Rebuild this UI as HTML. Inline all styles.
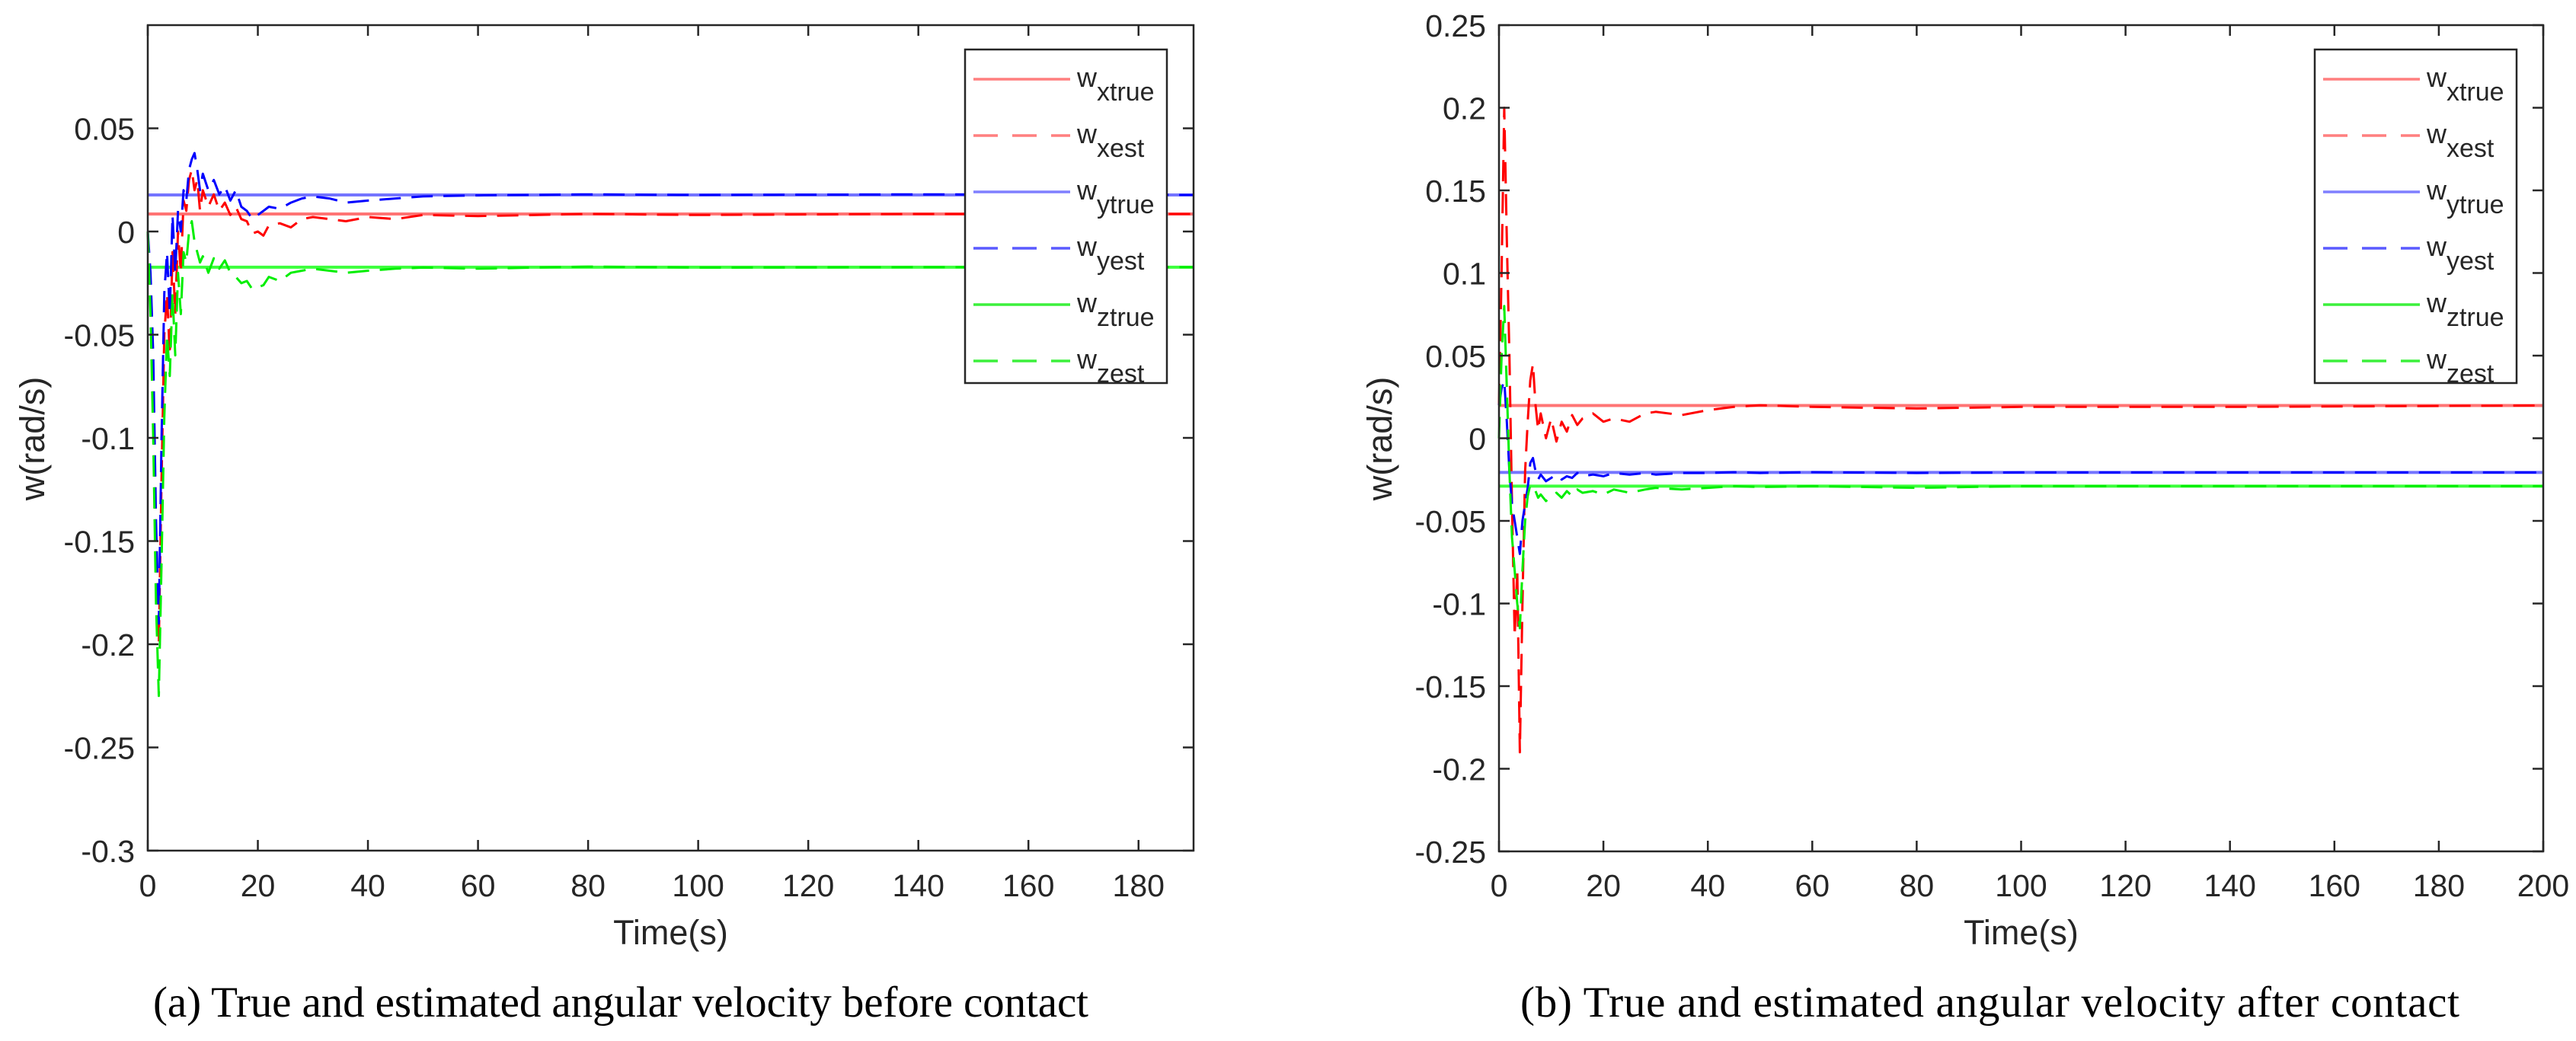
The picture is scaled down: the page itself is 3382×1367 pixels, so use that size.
<!DOCTYPE html>
<html><head><meta charset="utf-8"><style>
html,body{margin:0;padding:0;background:#fff;}
svg{display:block;}
text{font-family:"Liberation Sans",Arial,sans-serif;fill:#262626;}
.cap{font-family:"Liberation Serif","Times New Roman",serif;fill:#000;}
</style></head><body>
<svg id="fig" width="3382" height="1367" viewBox="0 0 3382 1367" xmlns="http://www.w3.org/2000/svg">
<g id="pa"></g>
<g id="pb"></g>
<text class="cap" x="201" y="1335" font-size="57" textLength="1228" lengthAdjust="spacing">(a) True and estimated angular velocity before contact</text>
<text class="cap" x="1996" y="1335" font-size="57" textLength="1233" lengthAdjust="spacing">(b) True and estimated angular velocity after contact</text>
</svg>
<script>
// ---- Chart A data (before contact) ----
const aXTicks=[0,20,40,60,80,100,120,140,160,180];
const aYTicks=[-0.3,-0.25,-0.2,-0.15,-0.1,-0.05,0,0.05];
const aYTickLabels=["-0.3","-0.25","-0.2","-0.15","-0.1","-0.05","0","0.05"];
const aTrueX=0.0085, aTrueY=0.0177, aTrueZ=-0.0173;
const aEstT=[0,0.5,1,1.5,2,2.5,3,3.5,4,4.5,5,5.5,6,6.5,7,7.5,8,8.5,9,9.5,10,11,12,13,14,15,16,17,18,19,20,21,22,24,26,28,30,33,36,40,45,50,60,80,100,140,190];
const aEstX=[0,-0.03,-0.08,-0.15,-0.2,-0.12,-0.05,-0.03,-0.06,-0.01,-0.04,0.0,-0.02,0.015,0.01,0.025,0.03,0.02,0.025,0.01,0.02,0.012,0.018,0.01,0.014,0.008,0.012,0.006,0.005,-0.001,0.0,-0.002,0.003,0.004,0.002,0.006,0.007,0.006,0.005,0.007,0.006,0.008,0.0075,0.0085,0.008,0.0085,0.0085];
const aEstY=[0,-0.02,-0.06,-0.14,-0.19,-0.1,-0.03,-0.01,-0.04,0.008,-0.02,0.01,0.0,0.02,0.015,0.03,0.035,0.038,0.03,0.02,0.028,0.02,0.025,0.018,0.022,0.015,0.02,0.012,0.01,0.006,0.008,0.01,0.012,0.011,0.014,0.016,0.017,0.016,0.014,0.015,0.016,0.017,0.0175,0.018,0.0177,0.018,0.0177];
const aEstZ=[0,-0.04,-0.1,-0.18,-0.225,-0.16,-0.09,-0.05,-0.07,-0.03,-0.06,-0.02,-0.04,-0.01,-0.015,0.0,0.005,-0.005,-0.01,-0.015,-0.012,-0.02,-0.013,-0.018,-0.014,-0.02,-0.022,-0.025,-0.024,-0.028,-0.027,-0.026,-0.022,-0.024,-0.02,-0.019,-0.018,-0.019,-0.02,-0.019,-0.018,-0.0175,-0.018,-0.017,-0.0175,-0.0173,-0.0173];
// ---- Chart B data (after contact) ----
const bXTicks=[0,20,40,60,80,100,120,140,160,180,200];
const bYTicks=[-0.25,-0.2,-0.15,-0.1,-0.05,0,0.05,0.1,0.15,0.2,0.25];
const bYTickLabels=["-0.25","-0.2","-0.15","-0.1","-0.05","0","0.05","0.1","0.15","0.2","0.25"];
const bTrueX=0.0198, bTrueY=-0.0207, bTrueZ=-0.029;
const bEstT=[0,0.5,1,1.5,2,2.5,3,3.5,4,4.5,5,5.5,6,6.5,7,7.5,8,9,10,11,12,13,14,15,16,18,20,22,25,28,30,35,40,45,50,60,80,100,140,200];
const bEstX=[0.02,0.1,0.2,0.12,0.05,-0.04,-0.12,-0.08,-0.19,-0.1,-0.02,0.01,0.035,0.045,0.02,0.005,0.015,0.0,0.012,-0.002,0.01,0.004,0.014,0.008,0.012,0.015,0.01,0.012,0.01,0.015,0.016,0.014,0.017,0.019,0.02,0.019,0.018,0.019,0.019,0.0198];
const bEstY=[0.02,0.03,0.035,0.01,-0.02,-0.04,-0.05,-0.06,-0.07,-0.05,-0.04,-0.03,-0.015,-0.012,-0.02,-0.025,-0.022,-0.026,-0.024,-0.022,-0.025,-0.023,-0.024,-0.021,-0.023,-0.022,-0.023,-0.021,-0.022,-0.021,-0.022,-0.021,-0.021,-0.0205,-0.021,-0.0205,-0.021,-0.0207,-0.0207,-0.0207];
const bEstZ=[0.0,0.05,0.08,0.03,-0.02,-0.06,-0.08,-0.1,-0.115,-0.08,-0.05,-0.035,-0.028,-0.03,-0.032,-0.036,-0.034,-0.038,-0.035,-0.033,-0.036,-0.032,-0.035,-0.031,-0.033,-0.032,-0.034,-0.031,-0.033,-0.031,-0.03,-0.031,-0.03,-0.029,-0.0295,-0.029,-0.03,-0.029,-0.029,-0.029];

const NS='http://www.w3.org/2000/svg';
function mk(tag,attrs,parent){const e=document.createElementNS(NS,tag);for(const k in attrs)e.setAttribute(k,attrs[k]);parent.appendChild(e);return e;}

function drawChart(g,cfg){
  const L=cfg.left,R=cfg.right,T=cfg.top,B=cfg.bottom;
  const sx=v=>L+(v-cfg.xmin)/(cfg.xmax-cfg.xmin)*(R-L);
  const sy=v=>B-(v-cfg.ymin)/(cfg.ymax-cfg.ymin)*(B-T);
  const series=[
    {name:'x-true',val:cfg.trueX,col:'#ff7474'},
    {name:'y-true',val:cfg.trueY,col:'#7474ff'},
    {name:'z-true',val:cfg.trueZ,col:'#3cff3c'}];
  series.forEach(s=>{
    const ln=mk('line',{x1:sx(cfg.xmin),x2:sx(cfg.xmax),y1:sy(s.val),y2:sy(s.val),stroke:s.col,'stroke-width':4},g);
    
    
  });
  const est=[{name:'xest',v:cfg.estX,col:'#ff0000'},{name:'yest',v:cfg.estY,col:'#0000ff'},{name:'zest',v:cfg.estZ,col:'#00ee00'}];
  est.forEach(s=>{
    let d='';
    cfg.estT.forEach((t,i)=>{d+=(i?'L':'M')+sx(t).toFixed(1)+' '+sy(s.v[i]).toFixed(1);});
    const p=mk('path',{d:d,fill:'none',stroke:s.col,'stroke-width':3,'stroke-dasharray':'28 14','stroke-linejoin':'round'},g);
    
    
  });
  const box=mk('rect',{x:L,y:T,width:R-L,height:B-T,fill:'none',stroke:'#262626','stroke-width':2.5},g);
  
  
  cfg.xTicks.forEach(v=>{
    const x=sx(v);
    mk('line',{x1:x,x2:x,y1:B,y2:B-14,stroke:'#262626','stroke-width':2.5},g);
    mk('line',{x1:x,x2:x,y1:T,y2:T+14,stroke:'#262626','stroke-width':2.5},g);
    const t=mk('text',{x:x,y:1177,'font-size':41,'text-anchor':'middle'},g);
    t.textContent=String(v);
    
    
  });
  cfg.yTicks.forEach((v,i)=>{
    const y=sy(v);
    mk('line',{x1:L,x2:L+14,y1:y,y2:y,stroke:'#262626','stroke-width':2.5},g);
    mk('line',{x1:R,x2:R-14,y1:y,y2:y,stroke:'#262626','stroke-width':2.5},g);
    const t=mk('text',{x:L-17,y:y+15,'font-size':41,'text-anchor':'end'},g);
    t.textContent=cfg.yLabels[i];
    
    
  });
  const xt=mk('text',{x:(L+R)/2,y:1240,'font-size':45,'text-anchor':'middle'},g);
  xt.textContent='Time(s)';
  
  
  const yt=mk('text',{x:0,y:0,'font-size':45,'text-anchor':'middle',transform:'translate('+(cfg.ylabX)+' 576) rotate(-90)'},g);
  yt.textContent='w(rad/s)';
  
  
  const lg=mk('g',{},g);
  
  
  const LX=cfg.legX;
  mk('rect',{x:LX,y:65,width:265,height:438,fill:'#fff',stroke:'#262626','stroke-width':2.5},lg);
  const items=[['xtrue','#ff7f7f',null],['xest','#ff7f7f','32 19'],['ytrue','#7f7fff',null],['yest','#5a5aff','32 19'],['ztrue','#3cf03c',null],['zest','#3cf03c','32 19']];
  items.forEach((it,i)=>{
    const y=104+i*74;
    const e=mk('g',{},lg);
    
    
    const a={x1:LX+11,x2:LX+138,y1:y,y2:y,stroke:it[1],'stroke-width':3.5};
    if(it[2])a['stroke-dasharray']=it[2];
    mk('line',a,e);
    const t=mk('text',{x:LX+147,y:y+10,'font-size':36,fill:'#000'},e);
    t.textContent='w';
    const s=mk('tspan',{dy:18,'font-size':34},t);
    s.textContent=it[0];
  });
}
drawChart(document.getElementById('pa'),{left:194,right:1567,top:33,bottom:1117,xmin:0,xmax:190,ymin:-0.3,ymax:0.1,
  xTicks:aXTicks,yTicks:aYTicks,yLabels:aYTickLabels,trueX:aTrueX,trueY:aTrueY,trueZ:aTrueZ,estT:aEstT,estX:aEstX,estY:aEstY,estZ:aEstZ,ylabX:58,legX:1267});
drawChart(document.getElementById('pb'),{left:1968,right:3339,top:33,bottom:1118,xmin:0,xmax:200,ymin:-0.25,ymax:0.25,
  xTicks:bXTicks,yTicks:bYTicks,yLabels:bYTickLabels,trueX:bTrueX,trueY:bTrueY,trueZ:bTrueZ,estT:bEstT,estX:bEstX,estY:bEstY,estZ:bEstZ,ylabX:1827,legX:3039});
</script>
</body></html>
